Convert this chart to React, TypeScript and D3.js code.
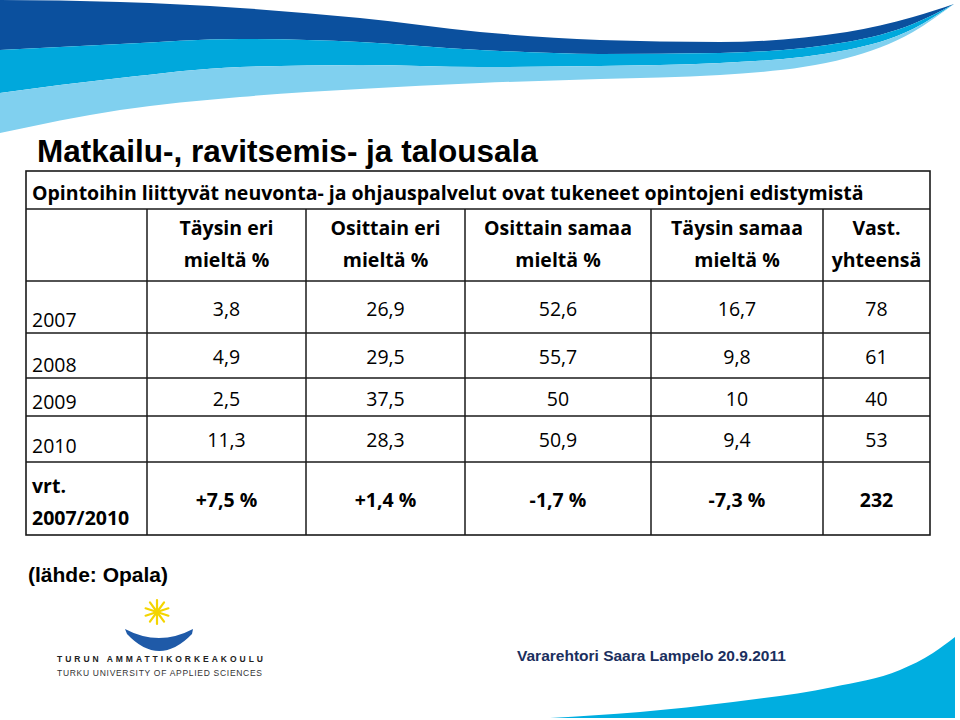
import React from 'react'
import * as d3 from 'd3'

// table content
const years = ['2007', '2008', '2009', '2010']
const headerTop = ['Täysin eri', 'Osittain eri', 'Osittain samaa', 'Täysin samaa', 'Vast.']
const headerBottom = ['mieltä %', 'mieltä %', 'mieltä %', 'mieltä %', 'yhteensä']
const taysinEri = [3.8, 4.9, 2.5, 11.3]
const osittainEri = [26.9, 29.5, 37.5, 28.3]
const osittainSamaa = [52.6, 55.7, 50, 50.9]
const taysinSamaa = [16.7, 9.8, 10, 9.4]
const vastaajat = [78, 61, 40, 53]

const title = 'Matkailu-, ravitsemis- ja talousala'
const question = 'Opintoihin liittyvät neuvonta- ja ohjauspalvelut ovat tukeneet opintojeni edistymistä'
const source = '(lähde: Opala)'
const footer = 'Vararehtori Saara Lampelo 20.9.2011'

// layout of the grid
const colEdges = [26, 147, 306, 465, 651, 823, 930]
const rowEdges = [171, 209, 281, 333, 378, 416, 462, 535]
const labelBase = [327, 372, 409, 453]
const valueBase = [316, 364, 406, 447]

// decorative wave at the top (edges sampled at the same x)
const waveX = [0, 120, 240, 360, 480, 600, 720, 847, 913, 954]
const waveTop = [0, 2, 8, 18, 32, 40, 42, 32, 17, 4]
const waveDark = [50, 44, 39, 42, 50, 54, 53, 42, 24, 4]
const waveMid = [93, 78, 67, 65, 67, 66, 63, 50, 29, 4]
const waveLight = [133, 110, 97, 89, 83, 79, 75, 58, 32, 4]
const footX = [550, 640, 733, 833, 900, 933, 955]
const footY = [718, 712, 702, 687, 670, 653, 637]

const fi = d3.formatLocale({decimal: ',', thousands: '\u00a0', grouping: [3], currency: ['', ''], minus: '-'})
const num = fi.format('~f')
const diff = fi.format('+.1f')

const FONT = '"Open Sans", "Noto Sans", sans-serif'
const ARIAL = '"Liberation Sans", Arial, sans-serif'

export default function App() {
  const series = [taysinEri, osittainEri, osittainSamaa, taysinSamaa]
  const cols = d3.range(5).map(i => (colEdges[i + 1] + colEdges[i + 2]) / 2)
  const changes = series.map(s => diff(s[s.length - 1] - s[0]) + ' %')
  const total = d3.sum(vastaajat)

  const band = (top: number[], bottom: number[]) =>
    d3.area<number>()
      .x(i => waveX[i])
      .y0(i => top[i])
      .y1(i => bottom[i])
      .curve(d3.curveMonotoneX)(d3.range(waveX.length)) || ''

  const foot = d3.area<number>()
    .x(i => footX[i])
    .y0(718)
    .y1(i => footY[i])
    .curve(d3.curveMonotoneX)(d3.range(footX.length)) || ''

  const line = '#1a1a1a'

  return (
    <svg width={960} height={720} style={{position: 'absolute', left: 0, top: 0, background: '#fff'}}>
      <path d={band(waveTop, waveDark)} fill="#0b509e" />
      <path d={band(waveDark, waveMid)} fill="#00a8dc" />
      <path d={band(waveMid, waveLight)} fill="#80d0ef" />
      <path d={foot} fill="#00aee0" />

      <text x={37} y={162} fontFamily={ARIAL} fontWeight="bold" fontSize={31.5} fill="#000">{title}</text>

      {/* grid */}
      <rect x={colEdges[0]} y={rowEdges[0]} width={colEdges[6] - colEdges[0]} height={rowEdges[7] - rowEdges[0]}
        fill="none" stroke={line} strokeWidth={1.6} />
      {rowEdges.slice(1, -1).map((y, i) => (
        <line key={'h' + i} x1={colEdges[0]} x2={colEdges[6]} y1={y} y2={y} stroke={line} strokeWidth={1.5} />
      ))}
      {colEdges.slice(1, -1).map((x, i) => (
        <line key={'v' + i} x1={x} x2={x} y1={rowEdges[1]} y2={rowEdges[7]} stroke={line} strokeWidth={1.5} />
      ))}

      <text x={32} y={200} fontFamily={FONT} fontWeight="bold" fontSize={19.5} fill="#000">{question}</text>

      {headerTop.map((t, i) => (
        <text key={'ht' + i} x={cols[i]} y={235} textAnchor="middle" fontFamily={FONT} fontWeight="bold" fontSize={19.5}>{t}</text>
      ))}
      {headerBottom.map((t, i) => (
        <text key={'hb' + i} x={cols[i]} y={267} textAnchor="middle" fontFamily={FONT} fontWeight="bold" fontSize={19.5}>{t}</text>
      ))}

      {years.map((yr, r) => (
        <g key={yr} fontFamily={FONT} fontSize={19.5}>
          <text x={32} y={labelBase[r]}>{yr}</text>
          {series.map((s, c) => (
            <text key={c} x={cols[c]} y={valueBase[r]} textAnchor="middle">{num(s[r])}</text>
          ))}
          <text x={cols[4]} y={valueBase[r]} textAnchor="middle">{vastaajat[r]}</text>
        </g>
      ))}

      <g fontFamily={FONT} fontSize={19.5} fontWeight="bold">
        <text x={32} y={493}>vrt.</text>
        <text x={32} y={525}>2007/2010</text>
        {changes.map((t, c) => (
          <text key={c} x={cols[c]} y={507} textAnchor="middle">{t}</text>
        ))}
        <text x={cols[4]} y={507} textAnchor="middle">{total}</text>
      </g>

      <text x={28} y={582} fontFamily={ARIAL} fontWeight="bold" fontSize={21}>{source}</text>

      {/* logo */}
      <g stroke="#f4d500" strokeWidth={2.2} strokeLinecap="round">
        {d3.range(10).map(k => {
          const a = (k * Math.PI) / 5 + Math.PI / 10
          return <line key={k} x1={157} y1={612} x2={157 + 12 * Math.cos(a)} y2={612 + 12 * Math.sin(a)} />
        })}
      </g>
      <path d="M125,629 Q159,647 193,629 L192,634 Q159,668 127,634 Z" fill="#1f5aa8" />
      <text x={57} y={662} fontFamily={ARIAL} fontWeight="bold" fontSize={8.5} textLength={206} lengthAdjust="spacing" fill="#222">TURUN AMMATTIKORKEAKOULU</text>
      <text x={57} y={676} fontFamily={ARIAL} fontSize={8.5} textLength={205} lengthAdjust="spacing" fill="#333">TURKU UNIVERSITY OF APPLIED SCIENCES</text>

      <text x={517} y={661} fontFamily={ARIAL} fontWeight="bold" fontSize={15.5} fill="#1b2f5e">{footer}</text>
    </svg>
  )
}
